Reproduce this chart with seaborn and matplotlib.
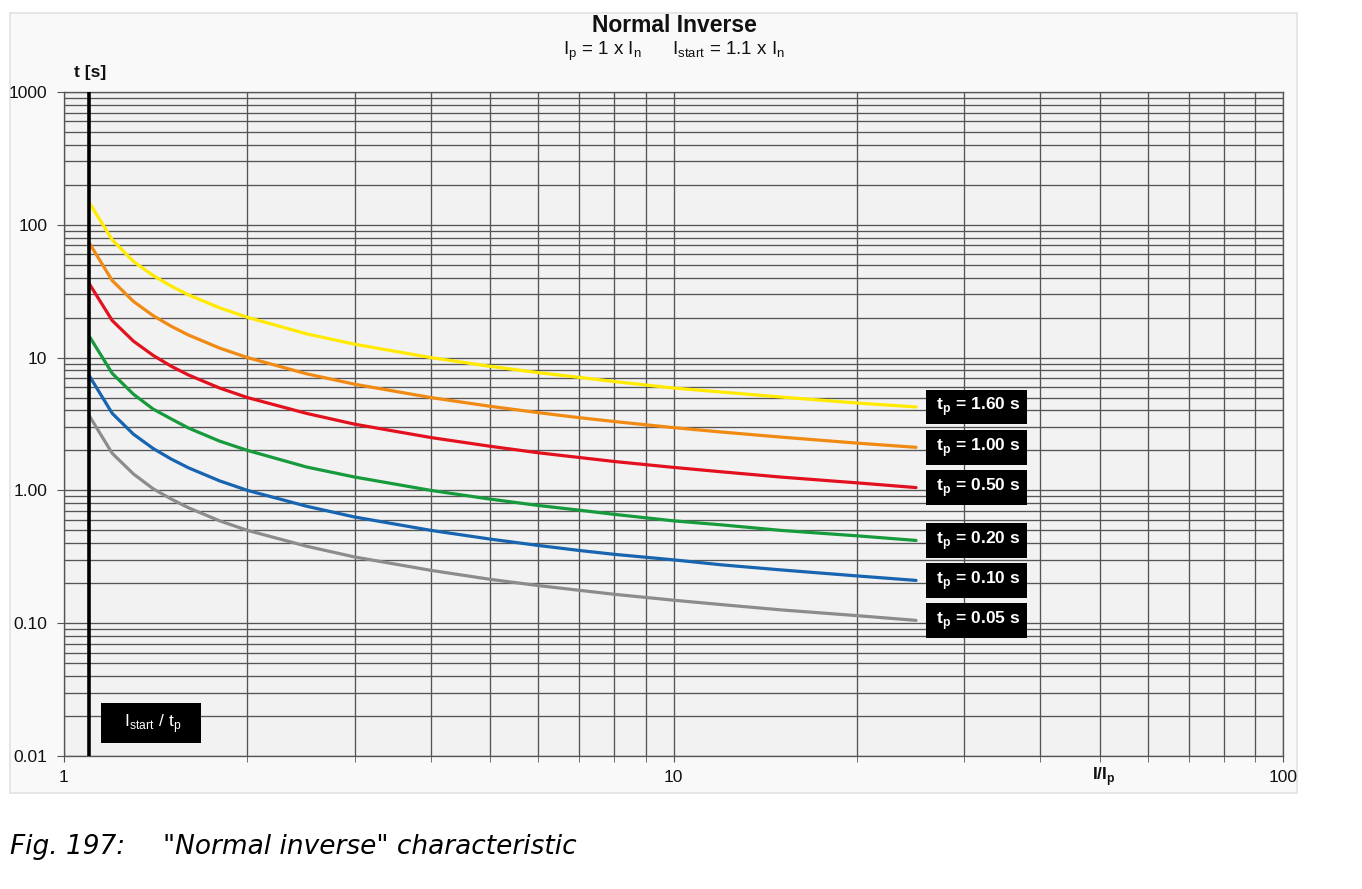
# Curva "Normal Inverse" - tempo de disparo x I/Ip

import pandas as pd
import seaborn as sns
import matplotlib.pyplot as plt
from matplotlib.patches import Rectangle
from matplotlib.ticker import LogLocator, FixedLocator, FixedFormatter, NullFormatter

# Dados
i_ip = [1.1, 1.2, 1.3, 1.4, 1.5, 1.6, 1.8, 2, 2.5, 3, 4, 5, 6, 7, 8, 10, 12, 15, 20, 25]
t_160 = [147, 77, 53, 41.5, 34.5, 29.7, 23.7, 20.1, 15.1, 12.6, 10.0, 8.6, 7.7, 7.1, 6.6, 5.9, 5.5, 5.05, 4.55, 4.25]
t_100 = [73, 38, 26.5, 20.7, 17.2, 14.8, 11.8, 10.0, 7.55, 6.3, 5.0, 4.3, 3.85, 3.53, 3.3, 2.97, 2.75, 2.52, 2.27, 2.11]
t_050 = [36, 19, 13.3, 10.4, 8.6, 7.4, 5.9, 5.0, 3.8, 3.15, 2.5, 2.15, 1.92, 1.77, 1.65, 1.49, 1.38, 1.26, 1.14, 1.05]
t_020 = [14.5, 7.6, 5.3, 4.1, 3.45, 2.95, 2.35, 2.0, 1.5, 1.26, 1.0, 0.86, 0.77, 0.71, 0.66, 0.59, 0.55, 0.50, 0.455, 0.42]
t_010 = [7.3, 3.8, 2.65, 2.07, 1.72, 1.48, 1.18, 1.0, 0.76, 0.63, 0.50, 0.43, 0.385, 0.353, 0.33, 0.30, 0.275, 0.252, 0.227, 0.21]
t_005 = [3.65, 1.9, 1.33, 1.03, 0.86, 0.74, 0.59, 0.50, 0.38, 0.315, 0.25, 0.214, 0.192, 0.177, 0.165, 0.149, 0.138, 0.126, 0.114, 0.105]

tp_labels = ["1.60", "1.00", "0.50", "0.20", "0.10", "0.05"]
cores = ["#ffea00", "#f08a12", "#e3101e", "#169a3c", "#1764b0", "#8c8c8c"]

y_ticks = [0.01, 0.1, 1, 10, 100, 1000]
y_ticklabels = ["0.01", "0.10", "1.00", "10", "100", "1000"]
x_ticks = [1, 10, 100]
x_ticklabels = ["1", "10", "100"]

# Tabela longa para o seaborn
curvas = [t_160, t_100, t_050, t_020, t_010, t_005]
df = pd.concat([pd.DataFrame({"I": i_ip, "t": c, "tp": lab})
                for c, lab in zip(curvas, tp_labels)], ignore_index=True)

sns.set_style("white")
plt.rcParams['font.family'] = ['Liberation Sans', 'DejaVu Sans']
plt.rcParams['mathtext.fontset'] = 'custom'
plt.rcParams['mathtext.rm'] = 'Liberation Sans'
plt.rcParams['mathtext.bf'] = 'Liberation Sans:bold'
plt.rcParams['text.color'] = '#111111'
plt.rcParams['xtick.labelcolor'] = '#111111'
plt.rcParams['ytick.labelcolor'] = '#111111'

fig = plt.figure(figsize=(13.62, 8.89), dpi=100)
fig.patches.append(Rectangle((10 / 1362, 1 - 793 / 889), 1287 / 1362, 780 / 889,
                             transform=fig.transFigure, fc="#f9f9f9",
                             ec="#e2e2e2", lw=1.2, zorder=-10))
ax = fig.add_axes([64 / 1362, 1 - 756 / 889, 1219 / 1362, 664 / 889])
ax.set_facecolor("#f2f2f2")

sns.lineplot(data=df, x="I", y="t", hue="tp", palette=cores, hue_order=tp_labels,
             lw=2.3, legend=False, sort=False, estimator=None, ax=ax, zorder=3)
ax.axvline(1.1, color="black", lw=2.6, zorder=4)

ax.set_xscale("log")
ax.set_yscale("log")
ax.set_xlim(1, 100)
ax.set_ylim(0.01, 1000)

ax.xaxis.set_major_locator(FixedLocator(x_ticks))
ax.xaxis.set_major_formatter(FixedFormatter(x_ticklabels))
ax.yaxis.set_major_locator(FixedLocator(y_ticks))
ax.yaxis.set_major_formatter(FixedFormatter(y_ticklabels))
for eixo in (ax.xaxis, ax.yaxis):
    eixo.set_minor_locator(LogLocator(base=10, subs=range(2, 10)))
    eixo.set_minor_formatter(NullFormatter())

ax.grid(True, which="both", color="#555555", lw=0.95, zorder=1)
ax.tick_params(axis="x", which="both", length=4, color="#555555", pad=6,
               labelsize=12.5, bottom=True)
ax.tick_params(axis="y", which="major", length=5, color="#555555", pad=7,
               labelsize=12.5, left=True)
ax.tick_params(axis="y", which="minor", length=0)
for s in ax.spines.values():
    s.set_color("#555555")
    s.set_linewidth(0.95)
ax.set_xlabel("")
ax.set_ylabel("")

# Rótulos tp no fim das curvas
for c, lab in zip(curvas, tp_labels):
    ax.text(31.4, c[-1], r" t$_\mathregular{p}$ = " + lab + " s ", color="white",
            fontsize=12.5, fontweight="bold", ha="center", va="center", zorder=5,
            bbox=dict(boxstyle="square,pad=0.34", fc="black", ec="none"))

ax.text(1.39, 0.0177, r"   I$_\mathregular{start}$ / t$_\mathregular{p}$   ", color="white",
        fontsize=12.5, ha="center", va="center", zorder=5,
        bbox=dict(boxstyle="square,pad=0.5", fc="black", ec="none"))

# Títulos e eixos
fig.text(674 / 1362, 1 - 25 / 889, "Normal Inverse", fontsize=16.5, fontweight="bold",
         ha="center", va="center")
fig.text(674 / 1362, 1 - 51 / 889,
         r"I$_\mathregular{p}$ = 1 x I$_\mathregular{n}$      "
         r"I$_\mathregular{start}$ = 1.1 x I$_\mathregular{n}$",
         fontsize=13.5, ha="center", va="center")
fig.text(90 / 1362, 1 - 73 / 889, "t [s]", fontsize=12.5, fontweight="bold",
         ha="center", va="center")
fig.text(1104 / 1362, 1 - 777 / 889, r"I/I$_\mathregular{p}$", fontsize=12.5,
         fontweight="bold", ha="center", va="center")

# Legenda da figura
fig.text(10 / 1362, 1 - 847 / 889, "Fig. 197:", fontsize=19, style="italic",
         family="DejaVu Sans", color="black", ha="left", va="center")
fig.text(163 / 1362, 1 - 847 / 889, '"Normal inverse" characteristic', fontsize=19,
         style="italic", family="DejaVu Sans", color="black", ha="left", va="center")

fig.savefig("out.png", dpi=100)
